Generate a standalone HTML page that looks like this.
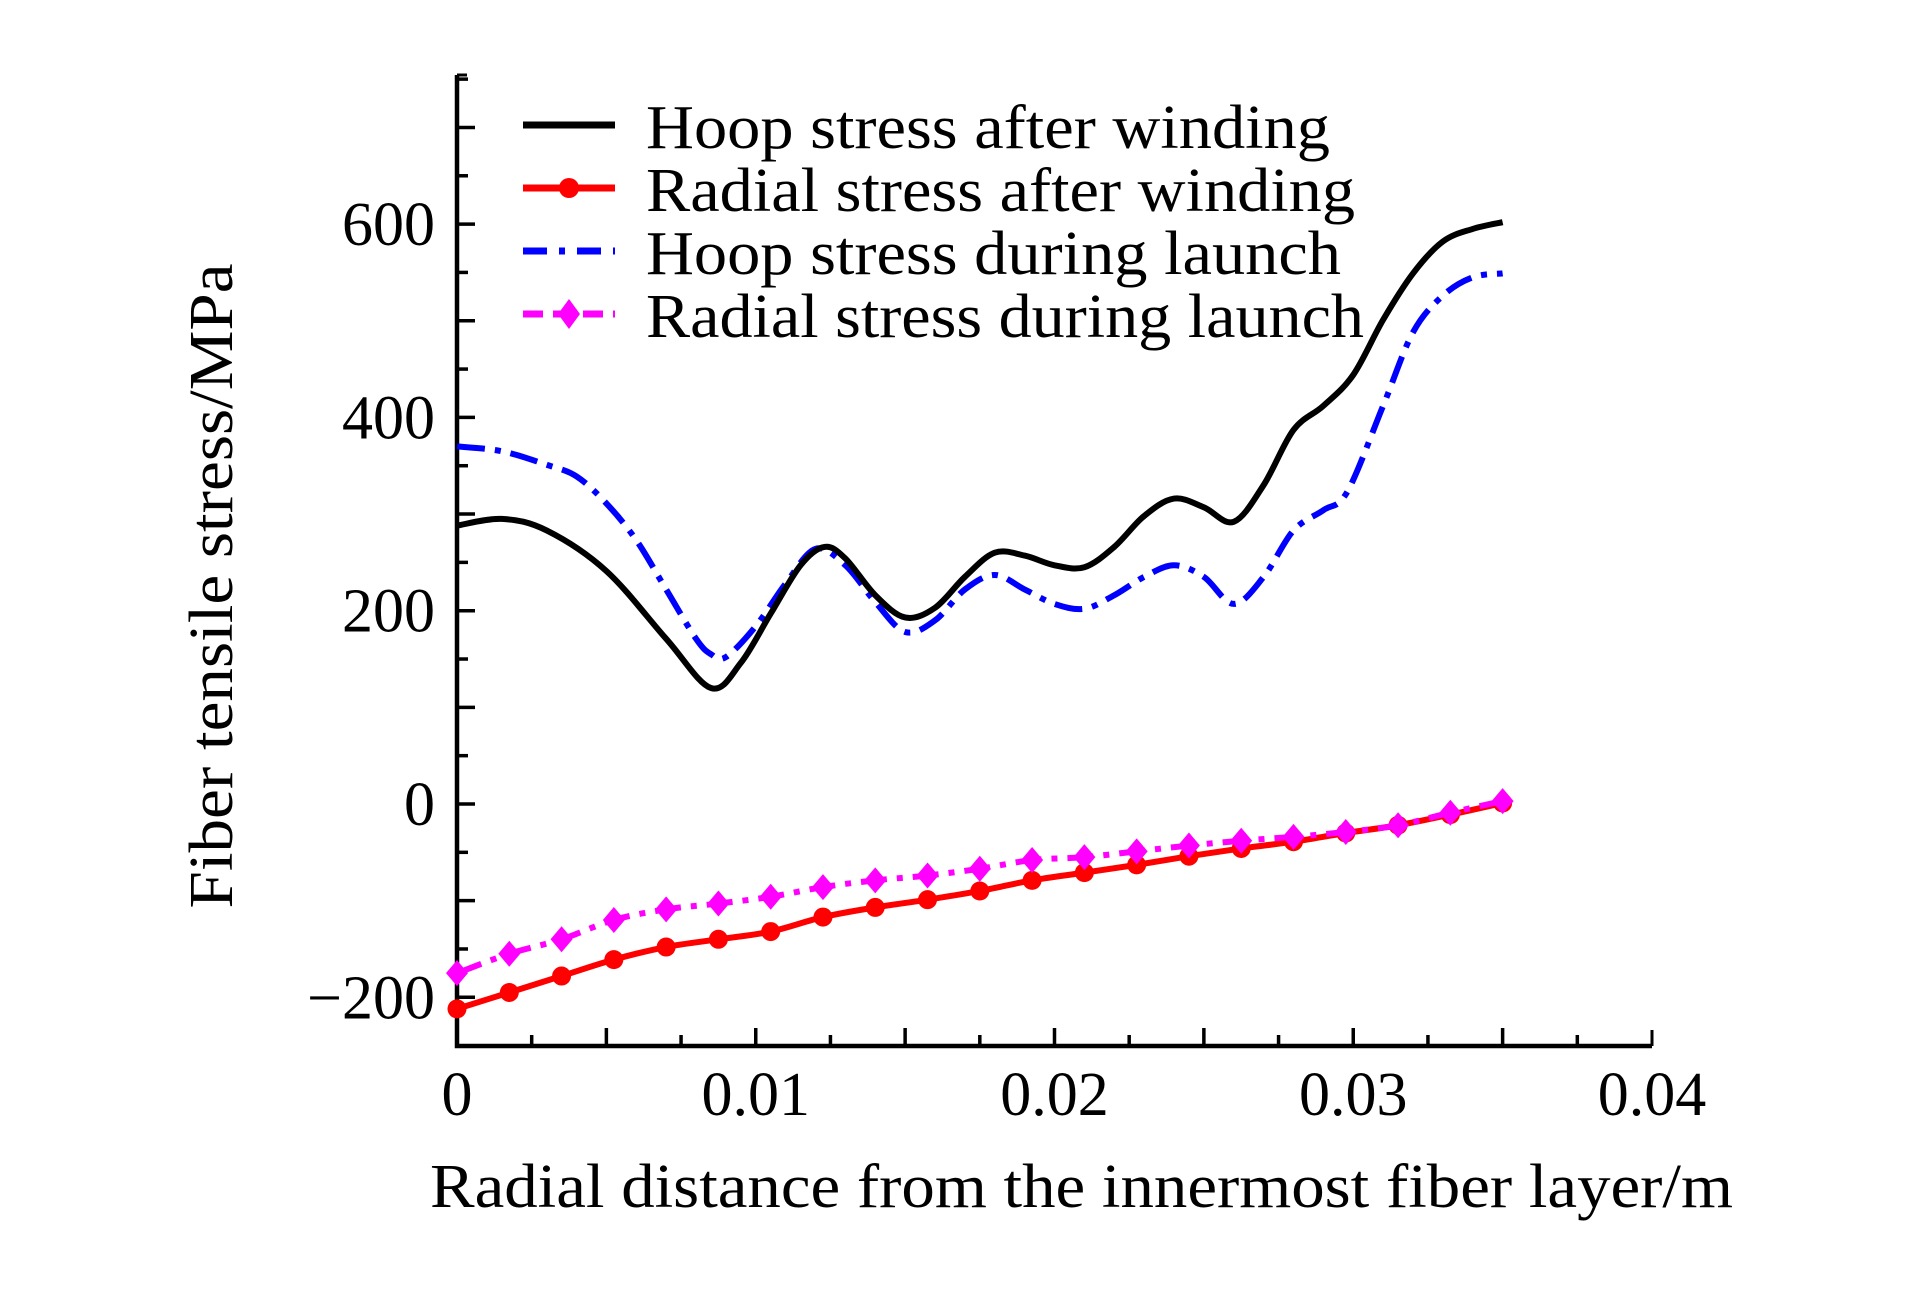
<!DOCTYPE html>
<html><head><meta charset="utf-8"><style>
html,body{margin:0;padding:0;background:#fff;}
svg{display:block;}
text{font-family:"Liberation Serif",serif;fill:#000;}
</style></head><body>
<svg id="chart" width="1923" height="1299" viewBox="0 0 1923 1299" xmlns="http://www.w3.org/2000/svg">
<rect width="1923" height="1299" fill="#fff"/>
<g id="grid"></g>
<g id="series"></g>
<g id="legend"></g>
<text x="218" y="586" font-size="62" text-anchor="middle" transform="rotate(-90 218 586)" dominant-baseline="middle" textLength="645" lengthAdjust="spacingAndGlyphs">Fiber tensile stress/MPa</text>
<text x="430" y="1207" font-size="62" textLength="1303" lengthAdjust="spacingAndGlyphs">Radial distance from the innermost fiber layer/m</text>
</svg>
<script>
const hoopWindX=[0,0.0015,0.003,0.005,0.007,0.0085,0.0095,0.0105,0.0115,0.0123,0.013,0.014,0.015,0.016,0.017,0.018,0.019,0.020,0.021,0.022,0.023,0.024,0.025,0.026,0.027,0.028,0.029,0.030,0.031,0.032,0.033,0.034,0.035];
const hoopWindY=[288,295,283,241,171,120,146,197,247,266,254,216,193,203,235,260,257,247,245,266,298,316,307,292,330,387,412,444,501,549,582,595,602];
const hoopLaunchX=[0,0.0015,0.003,0.004,0.005,0.006,0.007,0.008,0.0085,0.009,0.010,0.011,0.012,0.013,0.014,0.015,0.016,0.017,0.018,0.019,0.020,0.021,0.022,0.023,0.024,0.025,0.026,0.027,0.028,0.029,0.0298,0.031,0.032,0.033,0.034,0.035];
const hoopLaunchY=[370,365,351,339,311,273,222,171,155,152,184,228,264,247,209,178,190,222,237,222,207,202,216,235,247,235,207,235,283,304,323,412,488,526,545,549];
const radialX=[0,0.00175,0.0035,0.00525,0.007,0.00875,0.0105,0.01225,0.014,0.01575,0.0175,0.01925,0.021,0.02275,0.0245,0.02625,0.028,0.02975,0.0315,0.03325,0.035];
const radialWindY=[-212,-195,-178,-161,-148,-140,-132,-117,-107,-99,-90,-79,-71,-63,-54,-46,-39,-30,-22,-11,1];
const radialLaunchY=[-175,-155,-140,-120,-109,-103,-96,-86,-79,-74,-67,-58,-55,-49,-43,-38,-34,-29,-22,-9,3];
const xTickLabels=["0","0.01","0.02","0.03","0.04"];
const yTickLabels=["−200","0","200","400","600"];

const NS="http://www.w3.org/2000/svg";
const X=v=>457+v/0.04*1195;
const Y=v=>804-v*(193.3/200);
function mk(tag,parent,attrs){const e=document.createElementNS(NS,tag);for(const k in attrs)e.setAttribute(k,attrs[k]);parent.appendChild(e);return e;}
const G=document.getElementById('grid'),S=document.getElementById('series'),L=document.getElementById('legend');

let ax=mk('path',G,{d:`M457,75 L457,1046 L1652,1046`,stroke:'#000','stroke-width':4.5,fill:'none'});


mk('line',G,{x1:457,y1:75,x2:467,y2:75,stroke:'#000','stroke-width':3});
mk('line',G,{x1:1652,y1:1046,x2:1652,y2:1030,stroke:'#000','stroke-width':3});
for(let v=-200;v<=750;v+=50){const major=v%100===0;
 let t=mk('line',G,{x1:457,x2:457+(major?18:11),y1:Y(v),y2:Y(v),stroke:'#000','stroke-width':3.5});
 
 }
for(let i=1;i<16;i++){const v=i*0.0025;const major=i%2===0;
 let t=mk('line',G,{x1:X(v),x2:X(v),y1:1046,y2:1046-(major?18:11),stroke:'#000','stroke-width':3.5});
 
 }
xTickLabels.forEach((s,i)=>{let t=mk('text',G,{x:X(i*0.01),y:1115,'font-size':62,'text-anchor':'middle'});t.textContent=s;
 
 });
yTickLabels.forEach((s,i)=>{let t=mk('text',G,{x:435,y:Y(-200+i*200)+21,'font-size':62,'text-anchor':'end'});t.textContent=s;
 
 });

function smooth(xs,ys){const p=xs.map((x,i)=>[X(x),Y(ys[i])]);let d=`M${p[0][0]},${p[0][1]}`;
 for(let i=0;i<p.length-1;i++){const p0=p[Math.max(0,i-1)],p1=p[i],p2=p[i+1],p3=p[Math.min(p.length-1,i+2)];
  const c1=[p1[0]+(p2[0]-p0[0])/6,p1[1]+(p2[1]-p0[1])/6],c2=[p2[0]-(p3[0]-p1[0])/6,p2[1]-(p3[1]-p1[1])/6];
  d+=` C${c1[0]},${c1[1]} ${c2[0]},${c2[1]} ${p2[0]},${p2[1]}`;}return d;}

let s1=mk('path',S,{d:smooth(hoopLaunchX,hoopLaunchY),stroke:'#0000ff','stroke-width':6,fill:'none','stroke-dasharray':'28 10 6 10'});


let s2=mk('path',S,{d:smooth(hoopWindX,hoopWindY),stroke:'#000','stroke-width':6,fill:'none'});


let s3=mk('path',S,{d:smooth(radialX,radialWindY),stroke:'#ff0000','stroke-width':6,fill:'none'});


radialX.forEach((x,i)=>{let c=mk('circle',S,{cx:X(x),cy:Y(radialWindY[i]),r:9.5,fill:'#ff0000'});
 
 });
let s4=mk('path',S,{d:smooth(radialX,radialLaunchY),stroke:'#ff00ff','stroke-width':6,fill:'none','stroke-dasharray':'26 10 6 10'});


radialX.forEach((x,i)=>{const cx=X(x),cy=Y(radialLaunchY[i]);
 let d=mk('path',S,{d:`M${cx},${cy-13} L${cx+11},${cy} L${cx},${cy+13} L${cx-11},${cy} Z`,fill:'#ff00ff'});
 
 });

const legNames=["Hoop stress after winding","Radial stress after winding","Hoop stress during launch","Radial stress during launch"];
const legW=[684,709,695,718];
const legY=[125,188,251,314];
legNames.forEach((n,i)=>{const y=legY[i];
 const col=['#000','#ff0000','#0000ff','#ff00ff'][i];
 let ln=mk('line',L,{x1:523,x2:615,y1:y,y2:y,stroke:col,'stroke-width':7});
 if(i>=2)ln.setAttribute('stroke-dasharray',i===2?'24 12 6 12':'20 10');
 
 
 if(i===1){let c=mk('circle',L,{cx:569,cy:y,r:10,fill:col});
  
  }
 if(i===3){let c=mk('path',L,{d:`M569,${y-15} L580,${y} L569,${y+15} L558,${y} Z`,fill:col});
  
  }
 let t=mk('text',L,{x:646,y:y+23,'font-size':62,textLength:legW[i],lengthAdjust:'spacingAndGlyphs'});t.textContent=n;
 
 });
</script>
</body></html>
